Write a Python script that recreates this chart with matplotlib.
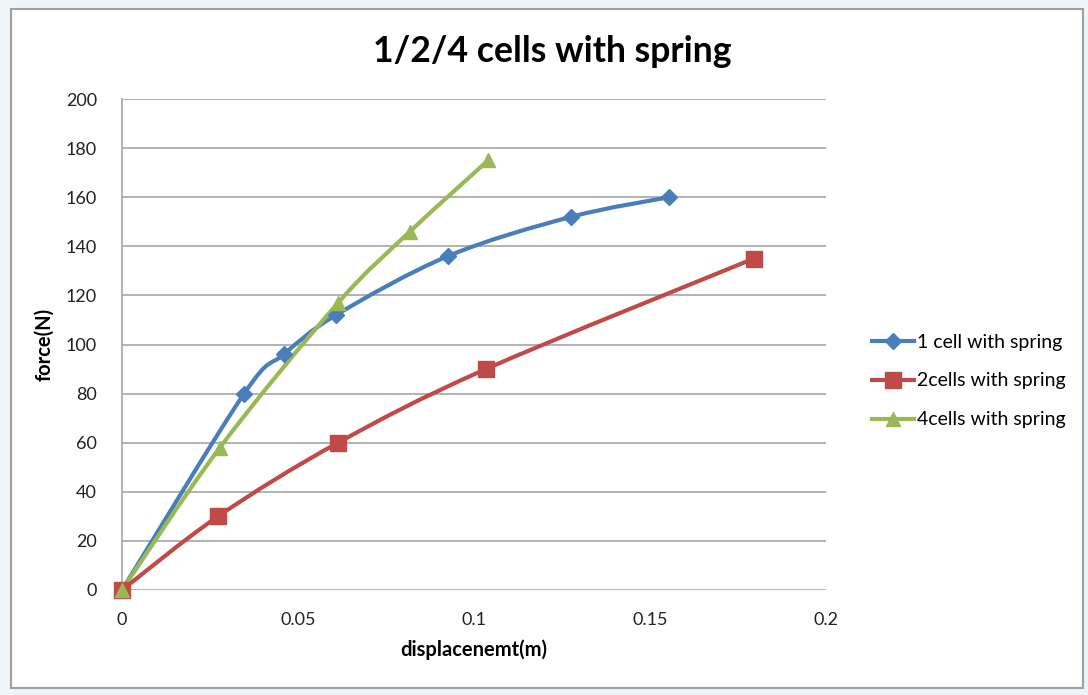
import matplotlib
matplotlib.use("Agg")
import matplotlib.pyplot as plt
from matplotlib.path import Path
from matplotlib.patches import PathPatch, Rectangle
from matplotlib.lines import Line2D

plt.rcParams['font.family'] = ['Lato', 'DejaVu Sans']

# data
x1 = [0, 0.0347, 0.046, 0.0608, 0.0926, 0.1276, 0.1554]
y1 = [0, 80, 96, 112, 136, 152, 160]
x2 = [0, 0.0273, 0.0614, 0.1034, 0.1795]
y2 = [0, 30, 60, 90, 135]
x4 = [0, 0.0278, 0.0614, 0.0818, 0.104]
y4 = [0, 58, 117, 146, 175]

names = ["1 cell with spring", "2cells with spring", "4cells with spring"]
colors = ["#4a7ebb", "#be4b48", "#98b954"]
markers = ["D", "s", "^"]
msizes = [8, 11, 10]


def smooth_path(xs, ys):
    # excel-like smoothed line: cubic bezier through each point
    pts = list(zip(xs, ys))
    n = len(pts)
    verts = [pts[0]]
    codes = [Path.MOVETO]
    for i in range(n - 1):
        p0 = pts[i - 1] if i > 0 else pts[i]
        p1 = pts[i]
        p2 = pts[i + 1]
        p3 = pts[i + 2] if i + 2 < n else pts[i + 1]
        c1 = (p1[0] + (p2[0] - p0[0]) / 6, p1[1] + (p2[1] - p0[1]) / 6)
        c2 = (p2[0] - (p3[0] - p1[0]) / 6, p2[1] - (p3[1] - p1[1]) / 6)
        verts += [c1, c2, p2]
        codes += [Path.CURVE4] * 3
    return Path(verts, codes)


fig = plt.figure(figsize=(10.88, 6.95), dpi=100)
fig.patch.set_facecolor("#eef5f8")
fig.patches.append(Rectangle((11 / 1088, 1 - 688 / 695), 1072 / 1088, 679 / 695,
                             transform=fig.transFigure, facecolor="white",
                             edgecolor="#a0a0a0", linewidth=1.5, zorder=-5))

ax = fig.add_axes([122 / 1088, 1 - 590 / 695, 704 / 1088, 491 / 695])
ax.set_zorder(2)
ax.set_xlim(0, 0.2)
ax.set_ylim(0, 200)
ax.set_xticks([0, 0.05, 0.1, 0.15, 0.2])
ax.set_xticklabels(["0", "0.05", "0.1", "0.15", "0.2"])
ax.set_yticks(range(0, 201, 20))
ax.tick_params(length=0, labelsize=13, colors="#222222")
ax.tick_params(axis="y", pad=18)
ax.tick_params(axis="x", pad=16)
ax.grid(axis="y", color="#a6a6a6", linewidth=1.2)
ax.set_axisbelow(True)
for s in ["top", "right", "bottom"]:
    ax.spines[s].set_visible(False)
ax.spines["left"].set_color("#a6a6a6")
ax.spines["left"].set_linewidth(1.2)
ax.patch.set_alpha(0)

series = [(x1, y1), (x2, y2), (x4, y4)]
handles = []
for (xs, ys), name, c, m, ms in zip(series, names, colors, markers, msizes):
    ax.add_patch(PathPatch(smooth_path(xs, ys), facecolor="none", edgecolor=c,
                           linewidth=3, zorder=3, clip_on=False))
    ax.plot(xs, ys, linestyle="none", marker=m, markersize=ms, color=c,
            zorder=4, clip_on=False)
    handles.append(Line2D([], [], color=c, linewidth=3, marker=m, markersize=ms))

ax.set_xlabel("displacenemt(m)", fontsize=14.5, fontweight="bold", labelpad=8)
ax.set_ylabel("force(N)", fontsize=14.5, fontweight="bold", labelpad=8)

fig.text(552 / 1088, 1 - 52 / 695, "1/2/4 cells with spring", fontsize=25.7,
         fontweight="bold", ha="center", va="center")

fig.legend(handles, names, loc="center left", bbox_to_anchor=(854 / 1088, 1 - 381 / 695),
           frameon=False, fontsize=14, handlelength=2.2, labelspacing=1.13,
           handletextpad=0.15)

fig.savefig("out.png", dpi=100, facecolor=fig.get_facecolor())
